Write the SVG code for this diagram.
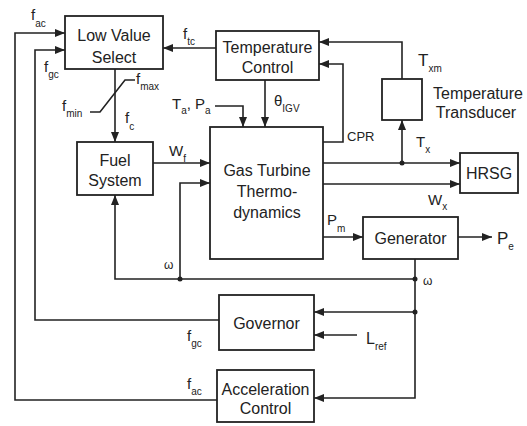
<svg xmlns="http://www.w3.org/2000/svg" width="527" height="426" viewBox="0 0 527 426">
<style>
.box{fill:#fff;stroke:#222;stroke-width:1.8}
.ln{fill:none;stroke:#222;stroke-width:1.6}
.t{font-family:"Liberation Sans",Arial,sans-serif;font-size:16px;fill:#222;text-anchor:middle}
.v{font-family:"Liberation Sans",Arial,sans-serif;font-size:15px;fill:#222}
.s{font-size:10px}
</style>
<defs>
<marker id="ah" markerUnits="userSpaceOnUse" markerWidth="10" markerHeight="8" refX="10" refY="4" orient="auto">
<path d="M0,0 L10,4 L0,8 Z" fill="#222"/>
</marker>
</defs>
<rect width="527" height="426" fill="#fff"/>
<g id="connectors">
<polyline class="ln" points="217,400 15,400 15,33 65,33" marker-end="url(#ah)"/>
<polyline class="ln" points="219,320 35,320 35,50 65,50" marker-end="url(#ah)"/>
<line class="ln" x1="216" y1="48" x2="163" y2="48" marker-end="url(#ah)"/>
<line class="ln" x1="115" y1="69" x2="115" y2="142" marker-end="url(#ah)"/>
<polyline class="ln" points="90,112 100,112 125,80 135,80"/>
<line class="ln" x1="153" y1="163" x2="210" y2="163" marker-end="url(#ah)"/>
<polyline class="ln" points="415,279 115,279 115,195" marker-end="url(#ah)"/>
<polyline class="ln" points="180,279 180,183 210,183" marker-end="url(#ah)"/>
<line class="ln" x1="265" y1="80" x2="265" y2="127" marker-end="url(#ah)"/>
<polyline class="ln" points="215,106 243,106 243,127" marker-end="url(#ah)"/>
<polyline class="ln" points="323,142 343,142 343,64 319,64" marker-end="url(#ah)"/>
<polyline class="ln" points="402,79 402,42 319,42" marker-end="url(#ah)"/>
<line class="ln" x1="323" y1="163" x2="460" y2="163" marker-end="url(#ah)"/>
<line class="ln" x1="402" y1="163" x2="402" y2="120" marker-end="url(#ah)"/>
<line class="ln" x1="323" y1="184" x2="460" y2="184" marker-end="url(#ah)"/>
<line class="ln" x1="323" y1="237" x2="363" y2="237" marker-end="url(#ah)"/>
<line class="ln" x1="458" y1="237" x2="492" y2="237" marker-end="url(#ah)"/>
<polyline class="ln" points="415,259 415,398 314,398" marker-end="url(#ah)"/>
<line class="ln" x1="415" y1="312" x2="314" y2="312" marker-end="url(#ah)"/>
<line class="ln" x1="357" y1="335" x2="314" y2="335" marker-end="url(#ah)"/>
<circle cx="180" cy="279" r="2.5" fill="#222"/>
<circle cx="415" cy="279" r="2.5" fill="#222"/>
<circle cx="415" cy="312" r="2.5" fill="#222"/>
<circle cx="402" cy="163" r="2.5" fill="#222"/>
</g>
<g id="lvs"><rect class="box" x="65" y="16" width="98" height="53"/><text class="t" x="114" y="41">Low Value</text><text class="t" x="114" y="63">Select</text></g>
<g id="tc"><rect class="box" x="216" y="31" width="103" height="49"/><text class="t" x="267.5" y="53">Temperature</text><text class="t" x="267.5" y="73">Control</text></g>
<g id="tt"><rect class="box" x="382" y="79" width="40" height="41"/><text class="t" x="478" y="99">Temperature</text><text class="t" x="476" y="118">Transducer</text></g>
<g id="fuel"><rect class="box" x="77" y="142" width="76" height="53"/><text class="t" x="115" y="166">Fuel</text><text class="t" x="115" y="186">System</text></g>
<g id="gt"><rect class="box" x="210" y="127" width="113" height="132"/><text class="t" x="267" y="176">Gas Turbine</text><text class="t" x="267" y="197">Thermo-</text><text class="t" x="267" y="218">dynamics</text></g>
<g id="hrsg"><rect class="box" x="460" y="153" width="58" height="40"/><text class="t" x="489" y="179">HRSG</text></g>
<g id="gen"><rect class="box" x="363" y="217" width="95" height="42"/><text class="t" x="410.5" y="244">Generator</text></g>
<g id="gov"><rect class="box" x="219" y="295" width="95" height="55"/><text class="t" x="266.5" y="329">Governor</text></g>
<g id="acc"><rect class="box" x="217" y="370" width="97" height="52"/><text class="t" x="265.5" y="395">Acceleration</text><text class="t" x="265.5" y="414">Control</text></g>
<g id="labels">
<text class="v" x="31" y="20">f<tspan class="s" dy="7">ac</tspan></text>
<text class="v" x="44" y="72">f<tspan class="s" dy="6">gc</tspan></text>
<text class="v" x="183" y="39">f<tspan class="s" dy="6">tc</tspan></text>
<text class="v" x="136" y="84">f<tspan class="s" dy="6">max</tspan></text>
<text class="v" x="62" y="111">f<tspan class="s" dy="6">min</tspan></text>
<text class="v" x="125" y="123">f<tspan class="s" dy="7">c</tspan></text>
<text class="v" x="172" y="109">T<tspan class="s" dy="5">a</tspan><tspan dy="-5">, P</tspan><tspan class="s" dy="5">a</tspan></text>
<text class="v" x="274" y="106">θ<tspan class="s" dy="6">IGV</tspan></text>
<text class="v" x="347" y="141" style="font-size:13px">CPR</text>
<text class="v" x="169" y="156">W<tspan class="s" dy="6">f</tspan></text>
<text class="v" x="164" y="269" style="font-size:12px">ω</text>
<text class="v" x="423" y="285" style="font-size:12px">ω</text>
<text class="v" x="327" y="225">P<tspan class="s" dy="7">m</tspan></text>
<text class="v" x="497" y="244" style="font-size:17px">P<tspan class="s" dy="6">e</tspan></text>
<text class="v" x="418" y="66" style="font-size:17px">T<tspan class="s" dy="6">xm</tspan></text>
<text class="v" x="416" y="147">T<tspan class="s" dy="6">x</tspan></text>
<text class="v" x="428" y="205">W<tspan class="s" dy="5">x</tspan></text>
<text class="v" x="366" y="344" style="font-size:16px">L<tspan class="s" dy="6">ref</tspan></text>
<text class="v" x="187" y="341">f<tspan class="s" dy="6">gc</tspan></text>
<text class="v" x="187" y="389">f<tspan class="s" dy="6">ac</tspan></text>
</g>
</svg>
